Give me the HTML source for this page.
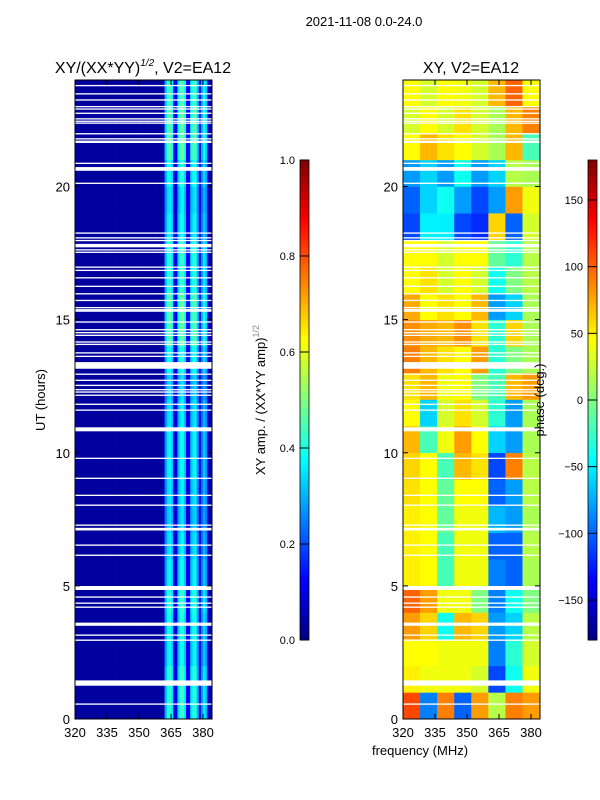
<!DOCTYPE html>
<html><head><meta charset="utf-8">
<style>
html,body{margin:0;padding:0;background:#fff;}
svg{display:block;font-family:"Liberation Sans","DejaVu Sans",sans-serif;}
</style></head>
<body>
<svg id="fig" width="600" height="800" viewBox="0 0 600 800">
<rect x="0" y="0" width="600" height="800" fill="#fff"/>
<text x="364" y="26" font-size="13" text-anchor="middle">2021-11-08 0.0-24.0</text>
<text x="143" y="73" font-size="16" text-anchor="middle">XY/(XX*YY)<tspan font-size="10" dy="-7" font-style="italic">1/2</tspan><tspan dy="7">, V2=EA12</tspan></text>
<text x="471" y="73" font-size="16" text-anchor="middle">XY, V2=EA12</text>
<text transform="translate(45,400) rotate(-90)" font-size="13" text-anchor="middle">UT (hours)</text>
<text x="420" y="755" font-size="13" text-anchor="middle">frequency (MHz)</text>
<text transform="translate(265,400) rotate(-90)" font-size="13" text-anchor="middle">XY amp. / (XX*YY amp)<tspan font-size="9" dy="-6" fill="#888">1/2</tspan></text>
<g id="left"></g>
<g id="right"></g>
<g id="cb1"></g>
<g id="cb2"></g>
<text transform="translate(544,400) rotate(-90)" font-size="13" text-anchor="middle">phase (deg.)</text>
</svg>
<script>
// ---- data ----
const freqTicks = [320, 335, 350, 365, 380];
const hourTicks = [0, 5, 10, 15, 20];
const ampTicks = [0.0, 0.2, 0.4, 0.6, 0.8, 1.0];
const phaseTicks = [-150, -100, -50, 0, 50, 100, 150];
// amplitude per 1-MHz channel, 320..383
const ampChannels = [0.03,0.03,0.03,0.03,0.03,0.03,0.03,0.03,0.03,0.03,0.03,0.03,0.03,0.03,0.03,0.03,
 0.03,0.03,0.03,0.03,0.03,0.03,0.03,0.03,0.03,0.03,0.03,0.03,0.03,0.03,0.03,0.03,
 0.03,0.03,0.03,0.03,0.03,0.03,0.03,0.03,0.03,0.05,0.3,0.4,0.42,0.36,0.12,0.1,
 0.34,0.42,0.44,0.36,0.12,0.12,0.36,0.4,0.42,0.3,0.1,0.28,0.36,0.3,0.08,0.04];
// time modulation per hour (0..23)
const ampHourly = [1.0,1.0,0.9,0.95,1.0,0.9,0.85,0.8,0.85,0.9,0.9,0.85,0.8,0.95,1.1,1.1,1.0,1.0,0.9,0.85,0.95,1.1,1.1,1.05];
// phase (deg) per 8-MHz bin (320..384) per hour, rows hour 0..23
const phaseBins = [320,328,336,344,352,360,368,376];
const phaseRows = [
 [110,-90,90,-100,80,20,90,80],
 [50,40,40,40,30,-110,-40,40],
 [45,45,40,40,40,-90,-30,30],
 [80,60,-40,70,60,-80,-60,20],
 [100,80,40,40,0,-90,-40,0],
 [50,45,-20,40,40,-90,-100,15],
 [50,45,-20,40,40,-100,-100,20],
 [50,45,-10,40,40,-70,-80,15],
 [55,45,-10,45,45,-100,-80,20],
 [60,45,-20,70,55,-110,90,20],
 [70,-20,40,80,45,-60,-80,15],
 [45,-60,30,55,30,-30,-80,15],
 [55,70,40,45,0,-20,70,80],
 [90,70,55,45,80,-30,0,15],
 [85,75,70,85,55,-30,60,15],
 [75,45,55,45,70,-80,-60,15],
 [45,55,30,45,30,-40,0,20],
 [45,45,30,45,45,-10,-30,20],
 [-110,-50,-50,-110,-120,60,-100,30],
 [-100,-60,-40,-80,-110,-80,80,40],
 [-80,-60,-80,-40,-80,-60,20,15],
 [45,70,55,45,30,15,70,-20],
 [30,45,30,55,30,15,70,90],
 [45,30,45,40,30,70,100,45]
];
// flagged (white) times in hours and their widths in hours
const flagHours = [23.79,23.48,23.25,23.0,22.91,22.75,22.54,22.45,22.38,21.98,21.79,21.70,21.66,20.87,20.66,20.12,
 18.25,18.07,17.97,17.78,17.62,17.53,16.97,16.85,16.57,16.25,15.97,15.72,15.45,15.37,15.32,14.91,14.62,14.51,14.41,
 14.16,14.07,13.75,13.62,13.28,12.95,12.72,12.53,12.37,12.28,12.16,11.82,11.6,10.88,9.79,9.04,8.4,8.03,7.28,7.13,
 6.53,6.15,4.92,4.58,4.35,4.2,3.56,3.15,2.96,1.35,0.56];
const flagWidths = [0.05,0.05,0.05,0.05,0.05,0.05,0.05,0.05,0.05,0.05,0.05,0.05,0.05,0.05,0.14,0.05,
 0.05,0.05,0.05,0.13,0.05,0.05,0.05,0.05,0.05,0.05,0.05,0.05,0.05,0.05,0.05,0.05,0.05,0.05,0.05,
 0.05,0.05,0.05,0.05,0.25,0.05,0.05,0.05,0.05,0.05,0.05,0.05,0.05,0.15,0.05,0.05,0.05,0.05,0.05,0.1,
 0.05,0.05,0.15,0.05,0.05,0.05,0.12,0.05,0.05,0.2,0.05];

// ---- layout ----
const NS = "http://www.w3.org/2000/svg";
const TOP = 80, BOT = 719;
const fMin = 320, fMax = 384.2, hMax = 24;
function yH(h){ return BOT - (h / hMax) * (BOT - TOP); }
function xF(x0, w){ return f => x0 + (f - fMin) / (fMax - fMin) * w; }
function jet(v){
  v = Math.max(0, Math.min(1, v));
  const r = Math.max(0, Math.min(1, 1.5 - Math.abs(4*v - 3)));
  const g = Math.max(0, Math.min(1, 1.5 - Math.abs(4*v - 2)));
  const b = Math.max(0, Math.min(1, 1.5 - Math.abs(4*v - 1)));
  return `rgb(${Math.round(r*255)},${Math.round(g*255)},${Math.round(b*255)})`;
}
function mk(tag, attrs, parent){
  const el = document.createElementNS(NS, tag);
  for (const k in attrs) el.setAttribute(k, attrs[k]);
  parent.appendChild(el);
  return el;
}

function axes(g, x0, w, name){
  const xs = xF(x0, w);
  for (let i = 0; i < flagHours.length; i++){
    const r = mk('rect', {x:x0, y:yH(flagHours[i] + flagWidths[i]/2), width:w, height:Math.max(1.2, yH(0) - yH(flagWidths[i])), fill:'#fff'}, g);
    
    
  }
  const fr = mk('rect', {x:x0, y:TOP, width:w, height:BOT-TOP, fill:'none', stroke:'#000', 'stroke-width':1}, g);
  
  
  freqTicks.forEach(f => {
    const x = xs(f);
    mk('line', {x1:x, x2:x, y1:BOT, y2:BOT-5, stroke:'#000'}, g);
    mk('line', {x1:x, x2:x, y1:TOP, y2:TOP+5, stroke:'#000'}, g);
    const t = mk('text', {x:x, y:BOT+18, 'font-size':13, 'text-anchor':'middle'}, g);
    t.textContent = f;
    
    
  });
  hourTicks.forEach(h => {
    const y = yH(h);
    mk('line', {x1:x0, x2:x0+5, y1:y, y2:y, stroke:'#000'}, g);
    mk('line', {x1:x0+w, x2:x0+w-5, y1:y, y2:y, stroke:'#000'}, g);
    const t = mk('text', {x:x0-5, y:y+5, 'font-size':13, 'text-anchor':'end'}, g);
    t.textContent = h;
    
    
  });
}

// left heatmap
(function(){
  const g = document.getElementById('left');
  const x0 = 75, w = 137, xs = xF(x0, w);
  for (let h = 0; h < 24; h++){
    for (let c = 0; c < ampChannels.length; c++){
      const f = fMin + c;
      let v = ampChannels[c];
      if (v > 0.06) v = v * ampHourly[h];
      const r = mk('rect', {x:xs(f), y:yH(h+1), width:xs(f+1)-xs(f)+0.3, height:yH(h)-yH(h+1)+0.3, fill:jet(v)}, g);
      
      
    }
  }
  axes(g, x0, w, 'left-axes');
})();

// right heatmap
(function(){
  const g = document.getElementById('right');
  const x0 = 403, w = 137, xs = xF(x0, w);
  for (let h = 0; h < phaseRows.length; h++){
    for (let c = 0; c < phaseBins.length; c++){
      const f = phaseBins[c];
      const f2 = c + 1 < phaseBins.length ? phaseBins[c+1] : fMax;
      const v = (phaseRows[h][c] + 180) / 360;
      const r = mk('rect', {x:xs(f), y:yH(h+1), width:xs(f2)-xs(f)+0.3, height:yH(h)-yH(h+1)+0.3, fill:jet(v)}, g);
      
      
    }
  }
  axes(g, x0, w, 'right-axes');
})();

// colorbars
function colorbar(id, x0, ticks, vmin, vmax, fmt){
  const g = document.getElementById(id);
  const y0 = 160, y1 = 640, w = 9, N = 120;
  for (let i = 0; i < N; i++){
    const v = (i + 0.5) / N;
    mk('rect', {x:x0, y:y1 - (i+1)*(y1-y0)/N, width:w, height:(y1-y0)/N + 0.5, fill:jet(v)}, g);
  }
  mk('rect', {x:x0, y:y0, width:w, height:y1-y0, fill:'none', stroke:'#000', 'stroke-width':0.8}, g);
  ticks.forEach(t => {
    const y = y1 - (t - vmin) / (vmax - vmin) * (y1 - y0);
    mk('line', {x1:x0, x2:x0+w, y1:y, y2:y, stroke:'#000'}, g);
    const tx = mk('text', {x: x0-5, y:y+4, 'font-size':11, 'text-anchor':'end'}, g);
    tx.textContent = fmt ? t.toFixed(1) : (t < 0 ? '\u2212' + (-t) : t);
    
    
  });
}
colorbar('cb1', 300, ampTicks, 0, 1, true);
colorbar('cb2', 588, phaseTicks, -180, 180, false);
</script>
</body></html>
